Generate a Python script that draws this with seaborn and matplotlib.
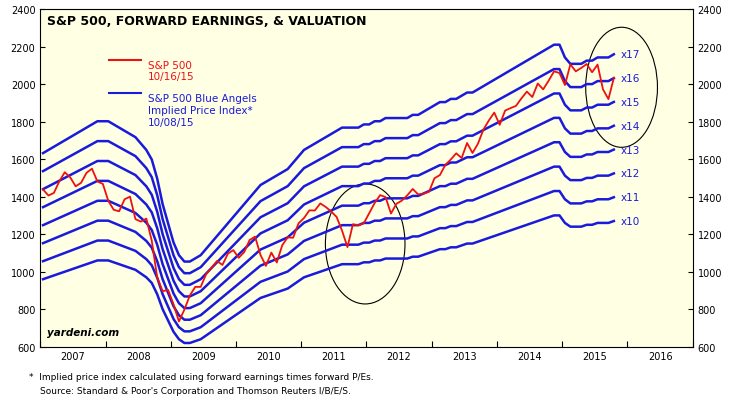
import numpy as np
import pandas as pd
import matplotlib
matplotlib.use("Agg")
import matplotlib.pyplot as plt
from matplotlib.patches import Ellipse
import seaborn as sns

sp500 = [1438,1406,1420,1482,1530,1503,1455,1474,1527,1549,1481,1468,
         1378,1330,1322,1386,1400,1280,1267,1283,1165,969,896,903,
         826,735,798,873,919,919,987,1021,1057,1036,1096,1115,
         1074,1104,1169,1187,1089,1031,1102,1049,1141,1183,1181,1258,
         1286,1327,1326,1364,1345,1321,1292,1219,1131,1253,1247,1258,
         1312,1366,1408,1398,1310,1362,1379,1407,1441,1412,1416,1426,
         1498,1515,1569,1598,1631,1606,1686,1633,1682,1757,1806,1848,
         1783,1859,1872,1884,1924,1960,1931,2003,1972,2018,2068,2059,
         1995,2105,2068,2086,2107,2063,2104,1972,1920,2033]
fwd_eps = [96,97,98,99,100,101,102,103,104,105,106,106,
           106,105,104,103,102,101,99,97,94,88,80,74,
           68,64,62,62,63,64,66,68,70,72,74,76,
           78,80,82,84,86,87,88,89,90,91,93,95,
           97,98,99,100,101,102,103,104,104,104,104,105,
           105,106,106,107,107,107,107,107,108,108,109,110,
           111,112,112,113,113,114,115,115,116,117,118,119,
           120,121,122,123,124,125,126,127,128,129,130,130,
           126,124,124,124,125,125,126,126,126,127]
multiples = [10, 11, 12, 13, 14, 15, 16, 17]
years = list(range(2007, 2017))

t = 2007 + (np.arange(len(sp500)) + 0.5) / 12
red = "#ee1111"
blue = "#1a1adc"

fig = plt.figure(figsize=(7.33, 4.02), dpi=100)
ax = fig.add_axes([0.055, 0.135, 0.89, 0.84])
ax.set_facecolor("#ffffe3")
for m in multiples:
    df = pd.DataFrame({"t": t, "v": np.array(fwd_eps) * m})
    sns.lineplot(data=df, x="t", y="v", ax=ax, color=blue, lw=1.8)
    ax.text(t[-1] + 0.1, fwd_eps[-1] * m, f"x{m}", color=blue, fontsize=7.5, va="center")
sns.lineplot(x=t, y=sp500, ax=ax, color=red, lw=1.3)

ax.set_xlim(2007, 2017)
ax.set_ylim(600, 2400)
ax.set_xlabel(""); ax.set_ylabel("")
ax.set_xticks(years + [2017])
ax.set_xticklabels([])
ax.set_xticks([y + 0.5 for y in years], minor=True)
ax.set_xticklabels([str(y) for y in years], minor=True, fontsize=7)
ax.tick_params(axis="x", which="minor", length=0)
ax.tick_params(axis="x", which="major", length=4, direction="in")
ax.set_yticks(range(600, 2401, 200))
ax.tick_params(axis="y", labelsize=7, direction="in", right=True, labelright=True)

ax.add_patch(Ellipse((2011.98, 1148), 1.22, 640, fill=False, color="black", lw=0.8))
ax.add_patch(Ellipse((2015.91, 1983), 1.1, 640, fill=False, color="black", lw=0.8))

ax.text(0.01, 0.985, "S&P 500, FORWARD EARNINGS, & VALUATION", transform=ax.transAxes,
        fontsize=9, fontweight="bold", va="top")
ax.plot([2008.05, 2008.55], [2130, 2130], color=red, lw=1.5)
ax.text(2008.65, 2130, "S&P 500\n10/16/15", color=red, fontsize=7.5, va="top",
        linespacing=1.2, transform=ax.transData)
ax.plot([2008.05, 2008.55], [1950, 1950], color=blue, lw=1.5)
ax.text(2008.65, 1950, "S&P 500 Blue Angels\nImplied Price Index*\n10/08/15", color=blue,
        fontsize=7.5, va="top", linespacing=1.2)
ax.text(2007.1, 660, "yardeni.com", fontsize=7.5, fontstyle="italic", fontweight="bold")

fig.text(0.04, 0.055, "*  Implied price index calculated using forward earnings times forward P/Es.",
         fontsize=6.5)
fig.text(0.055, 0.02, "Source: Standard & Poor's Corporation and Thomson Reuters I/B/E/S.",
         fontsize=6.5)
fig.savefig("out.png", dpi=100)
